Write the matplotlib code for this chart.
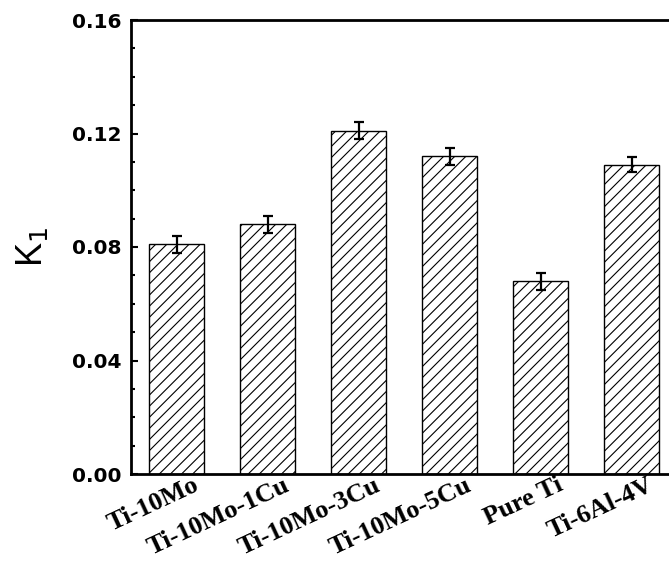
import matplotlib
matplotlib.use('Agg')
import matplotlib.pyplot as plt
from matplotlib.ticker import MultipleLocator
from matplotlib.transforms import ScaledTranslation
import numpy as np

# values
alloys = ['Ti-10Mo', 'Ti-10Mo-1Cu', 'Ti-10Mo-3Cu', 'Ti-10Mo-5Cu', 'Pure Ti', 'Ti-6Al-4V']
k1 = [0.081, 0.088, 0.121, 0.112, 0.068, 0.109]
k1_err = [0.003, 0.003, 0.003, 0.003, 0.003, 0.0027]

plt.rcParams['hatch.linewidth'] = 0.8

fig = plt.figure(figsize=(6.69, 5.68), dpi=100)
# axes run past the right edge of the picture, like the reference
ax = fig.add_axes([131/669, 94/568, 546/669, 454/568])

x = np.arange(1, len(alloys) + 1)
ax.bar(x, k1, width=0.6, color='white', edgecolor='black', linewidth=1.0,
       hatch='///', zorder=2)
ax.errorbar(x, k1, yerr=k1_err, fmt='none', ecolor='black', elinewidth=1.6,
            capsize=3.5, capthick=1.6, zorder=3)

ax.set_xlim(0.5, 6.5)
ax.set_ylim(0, 0.16)

ax.yaxis.set_major_locator(MultipleLocator(0.04))
ax.yaxis.set_minor_locator(MultipleLocator(0.01))
ax.yaxis.set_major_formatter(plt.FormatStrFormatter('%.2f'))

ax.tick_params(axis='y', which='major', direction='in', length=5, width=1.5, pad=7)
ax.tick_params(axis='y', which='minor', direction='in', length=3, width=1.5)
ax.tick_params(axis='x', which='both', length=0, pad=4)

for lab in ax.get_yticklabels():
    lab.set_family('DejaVu Sans')
    lab.set_fontweight('bold')
    lab.set_fontsize(14.5)

ax.set_xticks(x)
ax.set_xticklabels(alloys, rotation=25, ha='right', va='top', rotation_mode='anchor',
                   family='Liberation Serif', fontweight='bold', fontsize=19)
# nudge the slanted labels (after tick_params, which resets transforms)
for lab in ax.get_xticklabels():
    lab.set_transform(lab.get_transform() + ScaledTranslation(0.16, 0.06, fig.dpi_scale_trans))

for side in ['left', 'bottom', 'top', 'right']:
    ax.spines[side].set_linewidth(2)

ax.set_ylabel('K$_1$', fontsize=26, family='Liberation Sans', labelpad=16)

plt.savefig('out.png', dpi=100)
